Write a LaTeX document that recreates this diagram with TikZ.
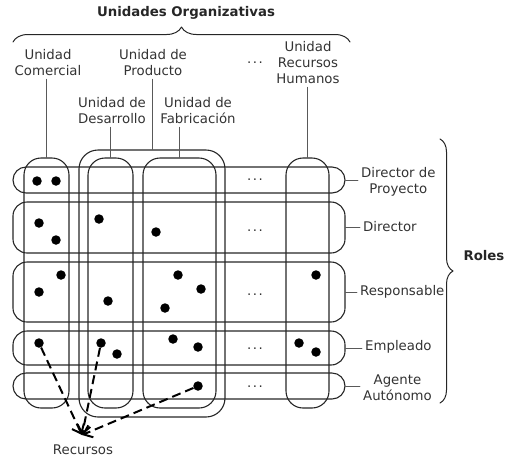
\documentclass[tikz,border=0pt]{standalone}
\usepackage{fontspec}
\setmainfont{DejaVu Sans}
\usetikzlibrary{decorations.pathreplacing,arrows.meta}
\newcommand{\puntos}{.\hspace{1.6pt}.\hspace{1.6pt}.}
\tikzset{
  fila/.style={draw=black!85, line width=1.1pt, rounded corners=14pt, minimum width=332pt, inner sep=0pt},
  columna/.style={draw=black!85, line width=1.1pt, rounded corners=17pt, minimum height=250pt, inner sep=0pt},
  punto/.style={circle, fill=black, minimum size=9.5pt, inner sep=0pt},
  etiqueta/.style={align=center, text=black!80, inner sep=3pt},
  guia/.style={draw=black!65, line width=0.9pt},
  llave/.style={draw=black!85, line width=1pt, decorate},
  recurso/.style={line width=2pt, dash pattern=on 9pt off 5pt, line cap=butt, -{Straight Barb[length=8pt,width=13pt]}}
}
\begin{document}
\begin{tikzpicture}[x=1pt, y=-1pt, font=\fontsize{13.3}{16}\selectfont, line join=round, line cap=round]
	\useasboundingbox (0,0) rectangle (505,459);
	% filas (roles)
	\node[fila, minimum height=26pt, rounded corners=13pt] (rdp) at (179,180) {};
	\node[fila, minimum height=51pt] (rdi) at (179,227.5) {};
	\node[fila, minimum height=60pt] (rre) at (179,292) {};
	\node[fila, minimum height=34pt] (rem) at (179,348) {};
	\node[fila, minimum height=26pt, rounded corners=13pt] (rag) at (179,386) {};
	% columnas (unidades)
	\node[columna, minimum width=45pt] (ccom) at (46.5,283) {};
	\node[columna, minimum width=146pt, minimum height=267pt, rounded corners=19pt] (cpro) at (152,283.5) {};
	\node[columna, minimum width=45pt] (cdes) at (110.5,283) {};
	\node[columna, minimum width=73pt] (cfab) at (179.5,283) {};
	\node[columna, minimum width=43pt] (crh) at (307.5,283) {};
	% etiquetas de unidades
	\node[etiqueta] (lcom) at (48,63) {Unidad\\Comercial};
	\node[etiqueta] (lpro) at (153,63) {Unidad de\\Producto};
	\node[etiqueta] (ldes) at (112,111) {Unidad de\\Desarrollo};
	\node[etiqueta] (lfab) at (198,111) {Unidad de\\Fabricación};
	\node[etiqueta] (lrh) at (308,63) {Unidad\\Recursos\\Humanos};
	\node[etiqueta, inner sep=0pt] (lpts) at (255,63) {\puntos};
	\draw[guia] (ccom.north |- lcom.south) -- (ccom.north);
	\draw[guia] (cpro.north |- lpro.south) -- (cpro.north);
	\draw[guia] (cdes.north |- ldes.south) -- (cdes.north);
	\draw[guia] (cfab.north |- lfab.south) -- (cfab.north);
	\draw[guia] (crh.north |- lrh.south) -- (crh.north);
	% etiquetas de roles
	\node[etiqueta, anchor=west] (ldp) at (358,182) {Director de\\Proyecto};
	\node[etiqueta, anchor=west] (ldi) at (360,227) {Director};
	\node[etiqueta, anchor=west] (lre) at (357,292) {Responsable};
	\node[etiqueta, anchor=west] (lem) at (362,347) {Empleado};
	\node[etiqueta, anchor=west] (lag) at (360,388) {Agente\\Autónomo};
	\draw[guia] (rdp.east) -- (rdp.east -| ldp.west);
	\draw[guia] (rdi.east) -- (rdi.east -| ldi.west);
	\draw[guia] (rre.east) -- (rre.east -| lre.west);
	\draw[guia] (rem.east) -- (rem.east -| lem.west);
	\draw[guia] (rag.east) -- (rag.east -| lag.west);
	% puntos suspensivos
	\foreach \y [count=\i] in {180,231,295,349,387}
		\node[etiqueta, inner sep=0pt] (pts\i) at (255,\y) {\puntos};
	% recursos
	\foreach \p [count=\i] in {(37,181),(56,181),(39,223),(56,240),(99,219),(156,232),
		(61,275),(39,292),(108,301),(178,275),(201,289),(165,308),(316,275),
		(117,354),(173,339),(198,347),(299,343),(316,352)}
		\node[punto] (d\i) at \p {};
	\node[punto] (dcom) at (39,343) {};
	\node[punto] (ddes) at (101,343) {};
	\node[punto] (dfab) at (198,386) {};
	\coordinate (rtip) at (82,435);
	\node[etiqueta] (lrec) at (83,450) {Recursos};
	\draw[recurso] (dcom) -- (rtip);
	\draw[recurso] (ddes) -- (rtip);
	\draw[recurso] (dfab) -- (rtip);
	% llaves
	\draw[llave, decoration={brace, amplitude=15pt}] (13,42) -- (350,42);
	\node[font=\fontsize{13.3}{16}\bfseries, text=black!85] (tunid) at (186,13) {Unidades Organizativas};
	\draw[llave, decoration={brace, amplitude=13pt}] (440,139) -- (440,403);
	\node[font=\fontsize{13.3}{16}\bfseries, text=black!85, anchor=west] (troles) at (460,256) {Roles};
\end{tikzpicture}
\end{document}
